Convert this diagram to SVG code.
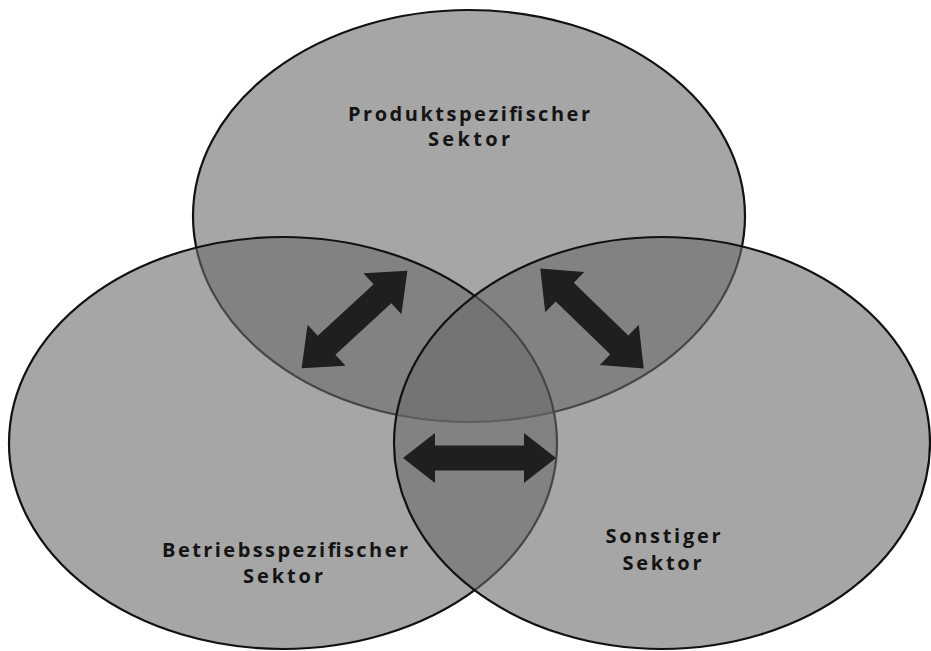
<svg xmlns="http://www.w3.org/2000/svg" width="931" height="651" viewBox="0 0 931 651">
  <style>
    .sector { fill: #6a6a6a; fill-opacity: 0.6; stroke: #111111; stroke-width: 2.2; }
    .label { font-family: "Open Sans", "Liberation Sans", sans-serif; font-weight: bold; font-size: 20px; fill: #141414; text-anchor: middle; }
    .arrow { fill: #1f1f1f; stroke: none; }
  </style>
  <rect x="0" y="0" width="931" height="651" fill="#ffffff"/>
  <g id="node-produkt">
    <ellipse class="sector" cx="469" cy="216" rx="276" ry="206"/>
  </g>
  <g id="node-betrieb">
    <ellipse class="sector" cx="283" cy="443" rx="274" ry="206"/>
  </g>
  <g id="node-sonstig">
    <ellipse class="sector" cx="662" cy="443" rx="268" ry="206"/>
  </g>
  <g id="connectors">
    <path class="arrow" transform="translate(354.5,319.5) rotate(-42.7)" d="M -72,0 L -38,-28 L -38,-13 L 38,-13 L 38,-28 L 72,0 L 38,28 L 38,13 L -38,13 L -38,28 Z"/>
    <path class="arrow" transform="translate(592,318.5) rotate(44.1)" d="M -72,0 L -38,-28 L -38,-13 L 38,-13 L 38,-28 L 72,0 L 38,28 L 38,13 L -38,13 L -38,28 Z"/>
    <path class="arrow" transform="translate(479.5,458)" d="M -76.5,0 L -44.5,-25 L -44.5,-12.5 L 44.5,-12.5 L 44.5,-25 L 76.5,0 L 44.5,25 L 44.5,12.5 L -44.5,12.5 L -44.5,25 Z"/>
  </g>
  <g id="labels">
    <text class="label" x="469" y="121" textLength="242" lengthAdjust="spacing">Produktspezifischer</text>
    <text class="label" x="469" y="146" textLength="82" lengthAdjust="spacing">Sektor</text>
    <text class="label" x="285" y="557" textLength="246" lengthAdjust="spacing">Betriebsspezifischer</text>
    <text class="label" x="283" y="583" textLength="80" lengthAdjust="spacing">Sektor</text>
    <text class="label" x="663" y="543" textLength="115" lengthAdjust="spacing">Sonstiger</text>
    <text class="label" x="662" y="570" textLength="79" lengthAdjust="spacing">Sektor</text>
  </g>
</svg>
